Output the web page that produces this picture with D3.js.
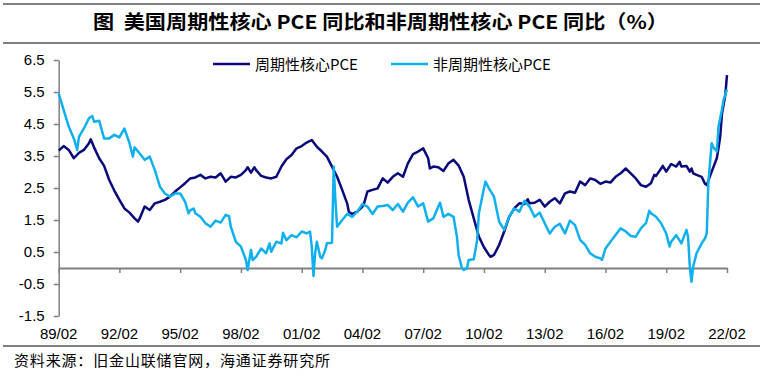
<!DOCTYPE html>
<html><head><meta charset="utf-8">
<script src="https://cdn.jsdelivr.net/npm/d3@7"></script>
<style>body{margin:0;background:#fff}svg{display:block}</style>
</head><body>
<svg id="c" width="777" height="376"></svg>
<script>
const titleText = "图  美国周期性核心 PCE 同比和非周期性核心 PCE 同比（%）";
const sourceText = "资料来源：旧金山联储官网，海通证券研究所";
const seriesNames = ["周期性核心PCE", "非周期性核心PCE"];
const seriesColors = ["#0A0A7A", "#10B0EE"];
const yTicks = [6.5, 5.5, 4.5, 3.5, 2.5, 1.5, 0.5, -0.5, -1.5];
const xTickLabels = ["89/02","92/02","95/02","98/02","01/02","04/02","07/02","10/02","13/02","16/02","19/02","22/02"];

const cyclicalDates = [
"1989-02","1989-05","1989-08","1989-11",
"1990-02","1990-05","1990-08","1990-09","1990-11",
"1991-02","1991-05","1991-08","1991-11",
"1992-02","1992-05","1992-08","1992-11",
"1993-01","1993-02","1993-05","1993-08","1993-11",
"1994-02","1994-05","1994-08","1994-11",
"1995-02","1995-05","1995-08","1995-11",
"1996-02","1996-05","1996-08","1996-11",
"1997-02","1997-05","1997-08","1997-11",
"1998-02","1998-05","1998-06","1998-08","1998-10","1998-11",
"1999-02","1999-05","1999-08","1999-11",
"2000-02","2000-05","2000-08","2000-11",
"2001-02","2001-05","2001-08","2001-11",
"2002-02","2002-05","2002-08","2002-11",
"2003-02","2003-05","2003-06","2003-08","2003-11",
"2004-02","2004-03","2004-05","2004-08","2004-11",
"2005-02","2005-05","2005-08","2005-11",
"2006-02","2006-05","2006-08","2006-11",
"2007-02","2007-05","2007-06","2007-08","2007-11",
"2008-02","2008-05","2008-08","2008-11",
"2009-02","2009-05","2009-08","2009-11",
"2010-02","2010-05","2010-06","2010-08","2010-11",
"2011-02","2011-05","2011-08","2011-11",
"2012-02","2012-04","2012-05","2012-08","2012-11",
"2013-02","2013-05","2013-08","2013-11",
"2014-02","2014-05","2014-08","2014-11",
"2015-02","2015-05","2015-08","2015-11",
"2016-02","2016-05","2016-08","2016-11",
"2017-02","2017-05","2017-08","2017-11",
"2018-02","2018-05","2018-07","2018-08","2018-11","2018-12",
"2019-02","2019-05","2019-08","2019-10","2019-11",
"2020-02","2020-04","2020-05","2020-06","2020-08","2020-11",
"2021-01","2021-02","2021-05","2021-08","2021-09","2021-10","2021-11","2021-12",
"2022-01","2022-02"];
const cyclicalValues = [
3.67,3.81,3.69,3.43,
3.60,3.69,3.90,4.02,3.77,
3.43,3.19,2.75,2.42,
2.13,1.86,1.73,1.55,
1.45,1.55,1.92,1.81,2.02,
2.07,2.13,2.23,2.39,
2.52,2.65,2.80,2.83,
2.91,2.80,2.85,2.83,
2.96,2.70,2.85,2.83,
2.91,3.06,3.15,2.98,3.15,3.06,
2.88,2.83,2.80,2.85,
3.17,3.40,3.53,3.74,
3.81,3.92,4.00,3.79,
3.64,3.48,3.17,2.85,
2.44,2.02,1.76,1.69,1.76,
1.92,2.02,2.39,2.44,2.49,
2.80,2.67,2.85,2.96,
2.85,3.27,3.56,3.64,
3.74,3.43,3.11,3.17,3.15,
3.03,3.27,3.38,3.20,
2.85,2.13,1.55,0.98,
0.65,0.41,0.35,0.41,0.72,
1.14,1.60,1.86,2.02,
2.00,2.15,2.02,2.04,2.13,
1.92,2.07,2.18,2.02,
2.33,2.39,2.35,2.70,
2.59,2.80,2.75,2.63,
2.70,2.67,2.85,2.96,
3.11,2.96,2.80,2.59,
2.54,2.65,2.91,2.88,3.11,3.19,
3.01,3.25,3.17,3.32,3.17,
3.19,3.01,3.11,2.96,2.91,2.85,
2.63,2.59,3.01,3.43,3.75,4.10,4.80,5.10,
5.40,6.03];

const acyclicalDates = [
"1989-02","1989-05","1989-08","1989-11",
"1990-01","1990-02","1990-05","1990-08","1990-10","1990-11",
"1991-02","1991-05","1991-08","1991-11",
"1992-02","1992-05","1992-08","1992-10","1992-11",
"1993-02","1993-05","1993-08","1993-11",
"1994-02","1994-05","1994-08","1994-11",
"1995-02","1995-05","1995-07","1995-08","1995-10","1995-11",
"1996-02","1996-05","1996-08","1996-11",
"1997-02","1997-05","1997-07","1997-08","1997-11",
"1998-02","1998-05","1998-06","1998-08","1998-09","1998-11",
"1999-02","1999-05","1999-07","1999-08","1999-11",
"2000-02","2000-03","2000-05","2000-08","2000-11",
"2001-02","2001-05","2001-07","2001-08","2001-09","2001-10","2001-11",
"2002-01","2002-02","2002-04","2002-05","2002-08","2002-09","2002-10","2002-11",
"2003-02","2003-05","2003-08","2003-11",
"2004-02","2004-05","2004-08","2004-11",
"2005-02","2005-05","2005-08","2005-11",
"2006-02","2006-05","2006-08","2006-11",
"2007-02","2007-05","2007-08","2007-11","2007-12",
"2008-02","2008-05","2008-08","2008-10","2008-11",
"2009-01","2009-02","2009-04","2009-05","2009-08","2009-10","2009-11",
"2010-02","2010-03","2010-05","2010-08","2010-11",
"2011-02","2011-05","2011-08","2011-11",
"2012-02","2012-05","2012-08","2012-11",
"2013-02","2013-05","2013-08","2013-11",
"2014-02","2014-05","2014-08","2014-11",
"2015-02","2015-05","2015-08","2015-11","2015-12",
"2016-02","2016-05","2016-08","2016-11",
"2017-02","2017-05","2017-08","2017-11",
"2018-02","2018-04","2018-05","2018-08","2018-11",
"2019-02","2019-04","2019-05","2019-08","2019-11",
"2020-02","2020-03","2020-04","2020-05","2020-06","2020-08","2020-11",
"2021-01","2021-02","2021-03","2021-05","2021-06","2021-08","2021-09","2021-11","2021-12",
"2022-02"];
const acyclicalValues = [
5.46,4.94,4.42,4.05,
3.69,4.10,4.36,4.68,4.75,4.57,
4.60,4.05,4.05,4.16,
4.08,4.36,3.90,3.48,3.77,
3.58,3.38,3.48,3.06,
2.54,2.33,2.23,2.33,
2.33,2.07,1.71,1.80,1.86,1.71,
1.60,1.40,1.29,1.48,
1.42,1.66,1.62,1.29,0.82,
0.67,0.25,-0.06,0.56,0.25,0.35,
0.61,0.46,0.77,0.51,0.82,
0.77,1.10,0.87,1.03,0.96,
1.14,1.08,1.14,0.67,-0.25,0.46,0.82,
0.35,0.30,0.56,0.77,0.79,3.17,2.13,1.29,
1.50,1.69,1.60,1.76,
2.00,1.92,1.69,1.92,
1.94,1.97,1.81,2.00,
1.76,2.04,2.21,1.92,
2.02,1.45,1.55,1.92,2.04,
1.60,1.69,1.60,0.98,0.40,
-0.01,-0.06,-0.01,0.25,0.27,0.88,1.71,
2.49,2.70,2.49,2.23,1.45,
1.19,1.60,1.86,1.76,
2.10,1.92,1.60,1.73,
1.40,1.08,1.29,1.38,
1.08,1.48,1.34,0.88,
0.72,0.46,0.35,0.30,0.25,
0.61,0.82,1.03,1.24,
1.14,1.00,0.98,1.24,
1.40,1.79,1.71,1.60,1.40,
1.08,0.67,0.82,1.03,0.77,
1.19,0.98,0.04,-0.43,0.04,0.46,0.77,
0.93,1.08,2.65,3.90,3.77,3.64,4.42,4.94,5.25,
5.58];

const parseM = d3.timeParse("%Y-%m");
const parseTick = d3.timeParse("%y/%m");
const svg = d3.select("#c");
const latin = "'Liberation Sans', Arial, 'Noto Sans CJK SC', sans-serif";
const cjk = "'Noto Sans CJK SC', 'Liberation Sans', sans-serif";

const x = d3.scaleTime().domain([parseM("1989-02"), parseM("2022-02")]).range([58.7, 727]);
const y = d3.scaleLinear().domain([-1.5, 6.5]).range([316, 60]);

// rules
[4, 43, 346].forEach(yy => svg.append("line").attr("x1", 3).attr("x2", 760).attr("y1", yy).attr("y2", yy)
  .attr("stroke", "#000").attr("stroke-width", 1.2));

svg.append("text").attr("x", 93).attr("y", 29)
  .attr("textLength", 575).attr("lengthAdjust", "spacingAndGlyphs")
  .style("white-space", "pre")
  .style("font-family", cjk).style("font-weight", "bold").style("font-size", "19px")
  .attr("fill", "#000").text(titleText);

svg.append("text").attr("x", 14).attr("y", 366).attr("textLength", 316)
  .style("font-family", cjk).style("font-size", "15px").attr("fill", "#000").text(sourceText);

// y axis
const yAxis = svg.append("g").attr("transform", `translate(${x.range()[0]},0)`)
  .call(d3.axisLeft(y).tickValues(yTicks).tickSize(5).tickSizeOuter(0).tickPadding(9).tickFormat(d => d.toFixed(1)));
yAxis.select(".domain").attr("stroke", "#808080").attr("stroke-width", 1.5);
yAxis.selectAll(".tick line").attr("stroke", "#808080").attr("stroke-width", 1.5);
yAxis.selectAll(".tick text").style("font-family", latin).style("font-size", "15px").attr("fill", "#000");

// x axis at zero
const tickDates = xTickLabels.map(parseTick);
const xAxis = svg.append("g").attr("transform", `translate(0,${y(0)})`)
  .call(d3.axisBottom(x).tickValues(tickDates).tickSize(5).tickSizeOuter(0).tickFormat(""));
xAxis.select(".domain").attr("stroke", "#808080").attr("stroke-width", 2);
xAxis.selectAll(".tick line").attr("stroke", "#808080").attr("stroke-width", 1.5);

svg.append("g").selectAll("text").data(xTickLabels).join("text")
  .attr("x", (d, i) => x(tickDates[i])).attr("y", 339).attr("text-anchor", "middle")
  .style("font-family", latin).style("font-size", "15px").attr("fill", "#000").text(d => d);

// lines
const line = d3.line().x(d => x(d.date)).y(d => y(d.v));
const series = [
  cyclicalDates.map((d, i) => ({date: parseM(d), v: cyclicalValues[i]})),
  acyclicalDates.map((d, i) => ({date: parseM(d), v: acyclicalValues[i]}))
];
series.forEach((s, i) => {
  svg.append("path").datum(s).attr("d", line).attr("fill", "none")
    .attr("stroke", seriesColors[i]).attr("stroke-width", 2.5).attr("stroke-linejoin", "round");
});

// legend
const legendX = [213, 391];
seriesNames.forEach((n, i) => {
  svg.append("line").attr("x1", legendX[i]).attr("x2", legendX[i] + 37).attr("y1", 64).attr("y2", 64)
    .attr("stroke", seriesColors[i]).attr("stroke-width", 2.5);
  svg.append("text").attr("x", legendX[i] + 42).attr("y", 69.5)
    .style("font-family", cjk).style("font-size", "15px").attr("fill", "#000").text(n);
});
</script>
</body></html>
